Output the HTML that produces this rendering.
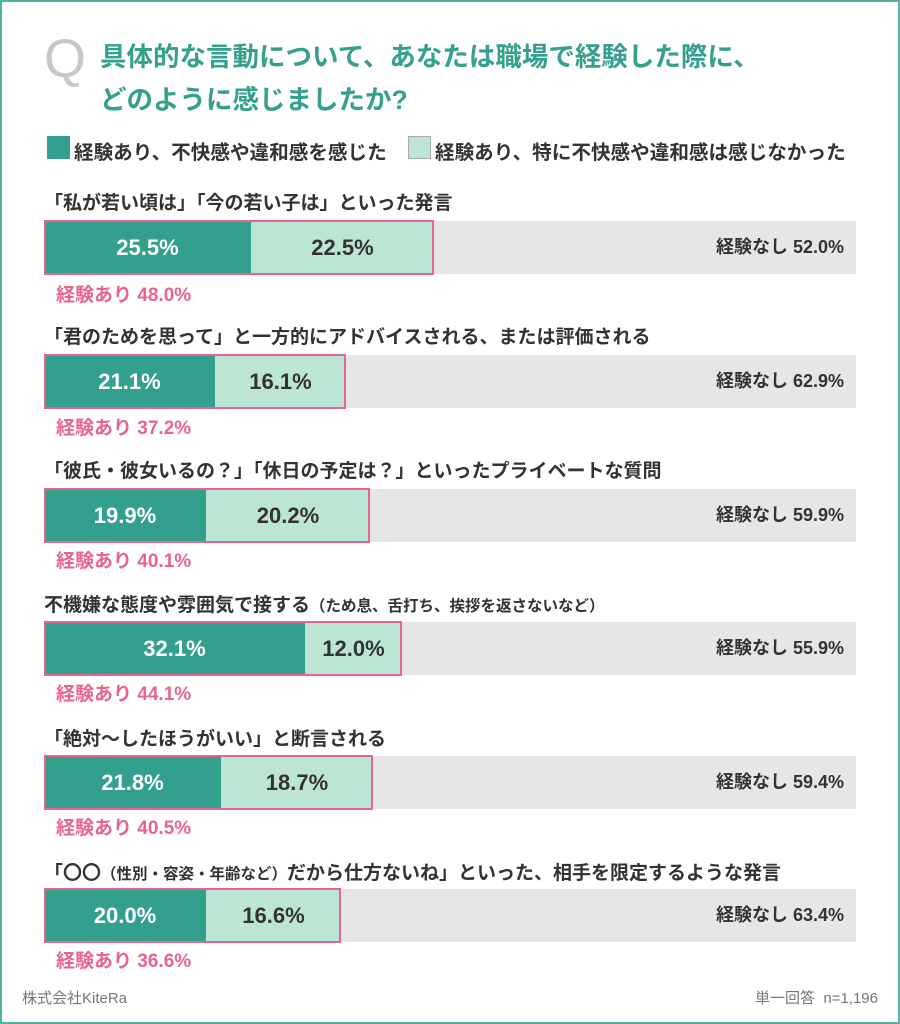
<!DOCTYPE html>
<html><head><meta charset="utf-8"><style>
*{margin:0;padding:0;box-sizing:border-box}
body{width:900px;height:1024px;position:relative;background:#fff;font-family:"Liberation Sans","Noto Sans CJK JP",sans-serif;overflow:hidden}
.frame{position:absolute;left:0;top:0;width:900px;height:1024px;border:2px solid #4fb3a2}
.abs{position:absolute;white-space:nowrap}
.q{left:44px;top:28px;font-size:54px;color:#c8c8c8;font-weight:400}
.title{left:100px;top:36px;font-size:26.5px;line-height:43px;color:#35a08d;font-weight:700}
.leg{top:136px;font-size:19.6px;color:#333;font-weight:700}
.sw{position:absolute;width:23px;height:23px;top:136px}
.lab{font-size:19px;color:#333;font-weight:700}
.bg{position:absolute;left:44px;width:812px;height:53px;background:#e6e6e6}
.d{position:absolute;top:0;height:53px;background:#33a08e;color:#fff;font-size:22px;font-weight:700;display:flex;align-items:center;justify-content:center}
.l{position:absolute;top:0;height:53px;background:#bce5d3;color:#333;font-size:22px;font-weight:700;display:flex;align-items:center;justify-content:center}
.pk{position:absolute;left:0;top:-1px;height:55px;border:2px solid #e96390}
.none{position:absolute;right:12px;top:0;line-height:53px;font-size:18px;color:#333;font-weight:700}
.ari{font-size:19px;color:#e96390;font-weight:700}
</style></head><body>
<div class="frame"></div>
<div class="abs q">Q</div>
<div class="abs title">具体的な言動について、あなたは職場で経験した際に、<br>どのように感じましたか?</div>
<div class="sw" style="left:47px;background:#33a08e"></div>
<div class="abs leg" style="left:74px">経験あり、不快感や違和感を感じた</div>
<div class="sw" style="left:408px;background:#bce5d3;border:1px solid #aaa"></div>
<div class="abs leg" style="left:435px">経験あり、特に不快感や違和感は感じなかった</div>

<div class="abs lab" style="left:44px;top:188px">「私が若い頃は」「今の若い子は」といった発言</div>
<div class="bg" style="top:221px"><div class="d" style="left:0;width:207px">25.5%</div><div class="l" style="left:207px;width:183px">22.5%</div><div class="pk" style="width:390px"></div><div class="none">経験なし 52.0%</div></div>
<div class="abs ari" style="left:56px;top:280px">経験あり 48.0%</div>

<div class="abs lab" style="left:44px;top:322px">「君のためを思って」と一方的にアドバイスされる、または評価される</div>
<div class="bg" style="top:355px"><div class="d" style="left:0;width:171px">21.1%</div><div class="l" style="left:171px;width:131px">16.1%</div><div class="pk" style="width:302px"></div><div class="none">経験なし 62.9%</div></div>
<div class="abs ari" style="left:56px;top:413px">経験あり 37.2%</div>

<div class="abs lab" style="left:44px;top:456px">「彼氏・彼女いるの？」「休日の予定は？」といったプライベートな質問</div>
<div class="bg" style="top:489px"><div class="d" style="left:0;width:162px">19.9%</div><div class="l" style="left:162px;width:164px">20.2%</div><div class="pk" style="width:326px"></div><div class="none">経験なし 59.9%</div></div>
<div class="abs ari" style="left:56px;top:546px">経験あり 40.1%</div>

<div class="abs lab" style="left:44px;top:590px">不機嫌な態度や雰囲気で接する<span style="font-size:15.5px">（ため息、舌打ち、挨拶を返さないなど）</span></div>
<div class="bg" style="top:622px"><div class="d" style="left:0;width:261px">32.1%</div><div class="l" style="left:261px;width:97px">12.0%</div><div class="pk" style="width:358px"></div><div class="none">経験なし 55.9%</div></div>
<div class="abs ari" style="left:56px;top:679px">経験あり 44.1%</div>

<div class="abs lab" style="left:44px;top:724px">「絶対〜したほうがいい」と断言される</div>
<div class="bg" style="top:756px"><div class="d" style="left:0;width:177px">21.8%</div><div class="l" style="left:177px;width:152px">18.7%</div><div class="pk" style="width:329px"></div><div class="none">経験なし 59.4%</div></div>
<div class="abs ari" style="left:56px;top:813px">経験あり 40.5%</div>

<div class="abs lab" style="left:44px;top:858px">「〇〇<span style="font-size:15.5px">（性別・容姿・年齢など）</span>だから仕方ないね」といった、相手を限定するような発言</div>
<div class="bg" style="top:889px"><div class="d" style="left:0;width:162px">20.0%</div><div class="l" style="left:162px;width:135px">16.6%</div><div class="pk" style="width:297px"></div><div class="none">経験なし 63.4%</div></div>
<div class="abs ari" style="left:56px;top:946px">経験あり 36.6%</div>

<div class="abs" style="left:22px;top:987px;font-size:15px;color:#777">株式会社KiteRa</div>
<div class="abs" style="right:22px;top:987px;font-size:15px;color:#777">単一回答&nbsp; n=1,196</div>
</body></html>
